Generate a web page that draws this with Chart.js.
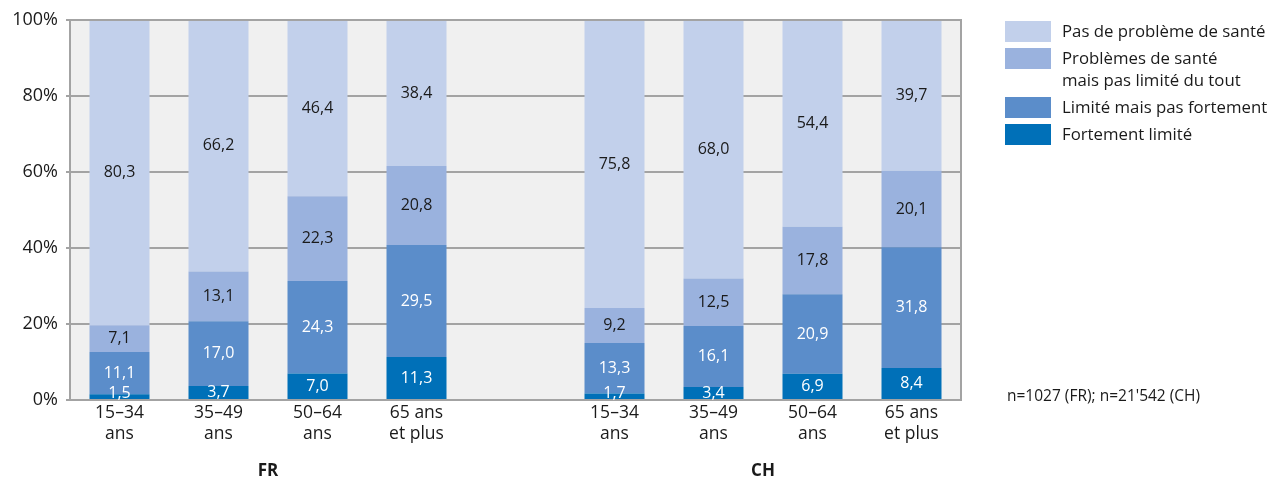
<!DOCTYPE html>
<html>
<head>
<meta charset="utf-8">
<script src="https://cdn.jsdelivr.net/npm/chart.js@4/dist/chart.umd.min.js"></script>
<style>
  html, body { margin: 0; padding: 0; background: #fff; }
  body { width: 1271px; height: 479px; position: relative; overflow: hidden; font-family: "Open Sans", sans-serif; color: #1a1a1a; }
  #wrap { position: absolute; left: 0; top: 0; width: 1271px; height: 479px; }
  #legend { position: absolute; left: 1005px; top: 21px; font-size: 16.8px; line-height: 22px; }
  .item { display: flex; align-items: flex-start; margin-bottom: 6px; }
  .box { width: 46px; height: 21px; margin-right: 11px; flex: none; }
  .lbl { margin-top: -1px; white-space: nowrap; }
  #note { position: absolute; left: 1007px; top: 384px; font-size: 15.5px; }
</style>
</head>
<body>
<div id="wrap"><canvas id="chart" width="1271" height="479"></canvas></div>
<div id="legend"></div>
<div id="note">n=1027 (FR); n=21'542 (CH)</div>
<script>
// categories (the empty slot separates FR and CH)
const categories = [
  ['15–34', 'ans'], ['35–49', 'ans'], ['50–64', 'ans'], ['65 ans', 'et plus'],
  '',
  ['15–34', 'ans'], ['35–49', 'ans'], ['50–64', 'ans'], ['65 ans', 'et plus']
];
const groups = [
  { label: 'FR', from: 0, to: 3 },
  { label: 'CH', from: 5, to: 8 }
];

// series, bottom of the stack first
const fortementLimite = [1.5, 3.7, 7.0, 11.3, null, 1.7, 3.4, 6.9, 8.4];
const limitePasFortement = [11.1, 17.0, 24.3, 29.5, null, 13.3, 16.1, 20.9, 31.8];
const problemesPasLimite = [7.1, 13.1, 22.3, 20.8, null, 9.2, 12.5, 17.8, 20.1];
const pasDeProbleme = [80.3, 66.2, 46.4, 38.4, null, 75.8, 68.0, 54.4, 39.7];

const seriesNames = [
  'Fortement limité',
  'Limité mais pas fortement',
  ['Problèmes de santé', 'mais pas limité du tout'],
  'Pas de problème de santé'
];
const seriesColors = ['#0070b8', '#5b8dca', '#9ab2de', '#c2d0eb'];
const labelColors = ['#ffffff', '#ffffff', '#1a1a1a', '#1a1a1a'];
const yTicks = [0, 20, 40, 60, 80, 100];

const seriesData = [fortementLimite, limitePasFortement, problemesPasLimite, pasDeProbleme];

// legend, top item first
const legend = document.getElementById('legend');
for (let i = seriesNames.length - 1; i >= 0; i--) {
  const item = document.createElement('div');
  item.className = 'item';
  const box = document.createElement('div');
  box.className = 'box';
  box.style.background = seriesColors[i];
  const lbl = document.createElement('div');
  lbl.className = 'lbl';
  const name = seriesNames[i];
  lbl.innerHTML = Array.isArray(name) ? name.join('<br>') : name;
  item.appendChild(box);
  item.appendChild(lbl);
  legend.appendChild(item);
}

const GRID = '#a3a3a3';

const plotBg = {
  id: 'plotBg',
  beforeDraw(chart) {
    const { ctx, chartArea: a } = chart;
    ctx.save();
    ctx.fillStyle = '#f0f0f0';
    ctx.fillRect(a.left, a.top, a.right - a.left, a.bottom - a.top);
    ctx.restore();
  },
  afterDatasetsDraw(chart) {
    const { ctx, chartArea: a } = chart;
    ctx.save();
    ctx.strokeStyle = GRID;
    ctx.lineWidth = 2;
    ctx.strokeRect(a.left, a.top, a.right - a.left, a.bottom - a.top);

    // value labels
    ctx.font = '16px "Open Sans", sans-serif';
    ctx.textAlign = 'center';
    ctx.textBaseline = 'middle';
    chart.data.datasets.forEach((ds, di) => {
      const meta = chart.getDatasetMeta(di);
      meta.data.forEach((bar, i) => {
        const v = ds.data[i];
        if (v == null) return;
        const mid = (bar.y + bar.base) / 2;
        const y = Math.min(mid, a.bottom - 7);
        ctx.fillStyle = labelColors[di];
        ctx.fillText(v.toFixed(1).replace('.', ','), bar.x, y);
      });
    });

    // group labels
    const x = chart.scales.x;
    ctx.font = 'bold 17px "Open Sans", sans-serif';
    ctx.fillStyle = '#1a1a1a';
    groups.forEach(g => {
      const cx = (x.getPixelForValue(g.from) + x.getPixelForValue(g.to)) / 2;
      ctx.fillText(g.label, cx, 471);
    });
    ctx.restore();
  }
};

new Chart(document.getElementById('chart'), {
  type: 'bar',
  data: {
    labels: categories,
    datasets: seriesData.map((d, i) => ({
      label: Array.isArray(seriesNames[i]) ? seriesNames[i].join(' ') : seriesNames[i],
      data: d,
      backgroundColor: seriesColors[i],
      borderWidth: 0,
      categoryPercentage: 1,
      barPercentage: 0.606
    }))
  },
  options: {
    responsive: false,
    animation: false,
    layout: { padding: { left: 0, right: 310, top: 20, bottom: 0 } },
    plugins: {
      legend: { display: false },
      tooltip: { enabled: false }
    },
    scales: {
      x: {
        stacked: true,
        grid: { display: false, drawTicks: false },
        border: { display: false },
        ticks: {
          color: '#1a1a1a',
          font: { family: '"Open Sans", sans-serif', size: 17.5, lineHeight: 1.22 },
          padding: 2,
          maxRotation: 0,
          autoSkip: false
        },
        afterFit(scale) { scale.height = 79; }
      },
      y: {
        stacked: true,
        min: 0,
        max: 100,
        afterBuildTicks(scale) { scale.ticks = yTicks.map(v => ({ value: v })); },
        grid: { color: GRID, lineWidth: 2, tickLength: 4 },
        border: { display: false },
        ticks: {
          color: '#1a1a1a',
          font: { family: '"Open Sans", sans-serif', size: 18 },
          padding: 8,
          callback: v => v + '%'
        },
        afterFit(scale) { scale.width = 70; }
      }
    }
  },
  plugins: [plotBg]
});
</script>
</body>
</html>
